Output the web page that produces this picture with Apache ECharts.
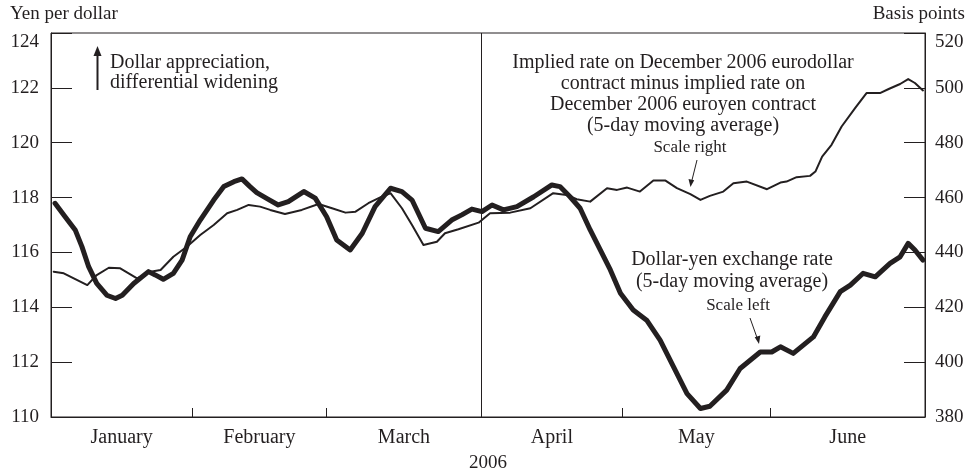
<!DOCTYPE html>
<html>
<head>
<meta charset="utf-8">
<script src="https://cdn.jsdelivr.net/npm/echarts@6/dist/echarts.min.js"></script>
<style>
html,body{margin:0;padding:0;background:#fff;}
#main{width:972px;height:472px;}
</style>
</head>
<body>
<div id="main"></div>
<script>
// months, and the business day on which each one ends
var months=['January','February','March','April','May','June'];
var monthEnds=[21,41,64,85,107,130];
var leftTicks=[110,112,114,116,118,120,122,124];
var rightTicks=[380,400,420,440,460,480,500,520];

// dollar-yen exchange rate, 5-day moving average (scale left)
var yenDays=[0.6,2.1,3.6,4.6,5.6,6.8,8.3,9.6,10.6,12.3,14.5,15.5,16.7,18.2,19.5,20.7,22.2,24.2,25.7,27.2,
    28.4,29.6,30.6,32.2,33.8,35.3,37.6,39.3,41.0,42.5,44.5,46.3,48.2,50.5,52.2,53.7,55.7,57.6,59.6,61.1,
    62.6,64.1,65.6,67.3,69.3,71.8,74.5,75.7,77.2,78.7,80.2,81.7,83.2,84.7,86.6,88.6,90.6,92.6,94.6,96.6,
    98.0,100.5,102.5,105.5,107.2,108.5,110.4,113.4,115.1,117.4,118.9,120.8,122.6,124.8,126.3,127.5,128.5,129.7];
var yenVals=[117.79,117.30,116.82,116.21,115.48,114.87,114.44,114.32,114.44,114.87,115.30,115.18,115.02,115.24,115.72,116.57,117.18,117.91,118.40,118.58,
    118.68,118.40,118.18,117.95,117.73,117.85,118.22,117.98,117.30,116.45,116.09,116.70,117.67,118.34,118.22,117.91,116.88,116.76,117.18,117.37,
    117.58,117.49,117.73,117.55,117.67,118.03,118.46,118.40,118.03,117.61,116.82,116.09,115.36,114.51,113.90,113.53,112.80,111.83,110.85,110.31,
    110.39,110.98,111.77,112.37,112.37,112.56,112.32,112.92,113.65,114.57,114.81,115.24,115.11,115.60,115.84,116.33,116.09,115.72];

// eurodollar minus euroyen implied rate, 5-day moving average (scale right)
var sprDays=[0.4,1.9,5.4,6.8,8.6,10.3,12.8,14.8,16.3,18.2,20.2,22.2,24.2,26.2,27.7,29.4,31.1,32.6,34.8,37.3,
    39.8,41.8,43.8,45.3,47.2,49.2,50.5,52.2,53.7,55.4,57.4,58.6,60.6,63.6,65.3,68.3,71.3,74.7,76.7,78.2,
    80.2,82.7,84.2,85.7,87.6,89.6,91.4,93.1,95.1,96.6,98.0,100.0,101.5,103.5,106.5,108.5,109.4,110.9,112.9,113.7,
    114.7,116.1,117.6,119.6,121.3,123.3,124.6,126.3,127.5,128.5,129.7];
var sprVals=[432.96,432.37,428.10,431.75,434.42,434.20,430.55,432.96,433.58,438.44,442.09,446.36,450.01,454.29,455.50,457.32,456.70,455.50,454.03,455.50,
    457.68,456.11,454.51,454.87,457.94,460.35,461.59,456.11,450.01,442.71,443.91,446.98,448.44,450.85,454.29,454.51,456.11,461.59,460.97,459.40,
    458.52,463.42,462.80,463.64,462.18,466.19,466.19,463.42,461.23,459.15,460.61,462.18,465.25,465.83,463.05,465.47,465.83,467.44,467.91,469.48,
    474.96,479.23,485.92,492.64,498.11,498.11,499.58,501.40,503.22,501.77,499.07];

var ink='#231f20';
var serif='"Liberation Serif","Times New Roman",serif';

function pairs(xs,ys){
    var out=[];
    for(var i=0;i<xs.length;i++){
        out.push([xs[i],ys[i]]);
    }
    return out;
}

// label each month halfway between its boundaries
var monthMid=[];
for(var i=0;i<monthEnds.length;i++){
    var s=i==0?0:monthEnds[i-1];
    monthMid.push((s+monthEnds[i])/2);
}

function txt(x,y,text,size,align){
    return {type:'text',x:x,y:y,silent:true,
        style:{text:text,fill:ink,font:size+'px '+serif,textAlign:align||'left',textVerticalAlign:'middle'}};
}

var option={
    animation:false,
    backgroundColor:'#fff',
    grid:{left:51,right:47,top:33,bottom:55,containLabel:false,outerBoundsMode:'none',
        show:true,borderColor:ink,borderWidth:1,backgroundColor:'transparent'},
    xAxis:{
        type:'value',min:0,max:monthEnds[monthEnds.length-1],
        name:'2006',nameLocation:'middle',nameGap:37,
        nameTextStyle:{color:ink,fontFamily:serif,fontSize:19},
        splitLine:{show:false},
        axisLine:{show:true,lineStyle:{color:ink,width:1}},
        axisTick:{show:true,inside:true,length:9,lineStyle:{color:ink,width:1},customValues:monthEnds.slice(0,5)},
        axisLabel:{color:ink,fontFamily:serif,fontSize:20,margin:11,customValues:monthMid,
            formatter:function(v){
                for(var i=0;i<monthMid.length;i++){
                    if(Math.abs(monthMid[i]-v)<0.01) return months[i];
                }
                return '';
            }}
    },
    yAxis:[{
        type:'value',position:'left',
        min:leftTicks[0],max:leftTicks[leftTicks.length-1],interval:2,
        splitLine:{show:false},
        axisLine:{show:true,lineStyle:{color:ink,width:1}},
        axisTick:{show:true,inside:true,length:21,lineStyle:{color:ink,width:1}},
        axisLabel:{color:ink,fontFamily:serif,fontSize:19,margin:12,verticalAlignMaxLabel:'top'}
    },{
        type:'value',position:'right',
        min:rightTicks[0],max:rightTicks[rightTicks.length-1],interval:20,
        splitLine:{show:false},
        axisLine:{show:true,lineStyle:{color:ink,width:1}},
        axisTick:{show:true,inside:true,length:21,lineStyle:{color:ink,width:1}},
        axisLabel:{color:ink,fontFamily:serif,fontSize:19,margin:10,verticalAlignMaxLabel:'top'}
    }],
    series:[{
        name:'Implied rate differential',type:'line',yAxisIndex:1,
        showSymbol:false,symbol:'none',
        lineStyle:{color:ink,width:2,cap:'round',join:'round'},
        data:pairs(sprDays,sprVals)
    },{
        name:'Dollar-yen exchange rate',type:'line',yAxisIndex:0,
        showSymbol:false,symbol:'none',
        lineStyle:{color:ink,width:5,cap:'round',join:'round'},
        data:pairs(yenDays,yenVals),
        markLine:{silent:true,symbol:['none','none'],label:{show:false},
            lineStyle:{color:ink,width:1,type:'solid'},
            data:[{xAxis:monthEnds[2]}]}
    }],
    graphic:[
        txt(10,14,'Yen per dollar',19),
        txt(965,14,'Basis points',19,'right'),
        txt(110,63,'Dollar appreciation,',20),
        txt(110,83,'differential widening',20),
        {type:'line',silent:true,shape:{x1:97.5,y1:54,x2:97.5,y2:90},style:{stroke:ink,lineWidth:2}},
        {type:'polygon',silent:true,shape:{points:[[97.5,46],[93.5,56],[101.5,56]]},style:{fill:ink}},
        txt(683,63,'Implied rate on December 2006 eurodollar',20,'center'),
        txt(683,84,'contract minus implied rate on',20,'center'),
        txt(683,105,'December 2006 euroyen contract',20,'center'),
        txt(683,126,'(5-day moving average)',20,'center'),
        txt(690,148,'Scale right',17,'center'),
        {type:'line',silent:true,shape:{x1:697,y1:160,x2:691.5,y2:182},style:{stroke:ink,lineWidth:1}},
        {type:'polygon',silent:true,shape:{points:[[690.5,187],[688.5,179],[694.2,180.3]]},style:{fill:ink}},
        txt(732,260,'Dollar-yen exchange rate',20,'center'),
        txt(732,282,'(5-day moving average)',20,'center'),
        txt(738,306,'Scale left',17,'center'),
        {type:'line',silent:true,shape:{x1:750,y1:318,x2:757.5,y2:339},style:{stroke:ink,lineWidth:1}},
        {type:'polygon',silent:true,shape:{points:[[759,344],[754.7,337.3],[760.3,335.6]]},style:{fill:ink}}
    ]
};

var myChart=echarts.init(document.getElementById('main'));
myChart.setOption(option);
</script>
</body>
</html>
